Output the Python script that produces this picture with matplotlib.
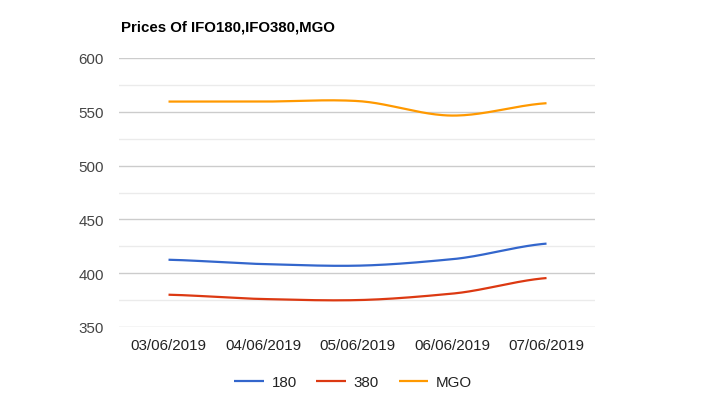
import numpy as np
import matplotlib
matplotlib.use("Agg")
import matplotlib.pyplot as plt
from matplotlib.ticker import MultipleLocator

plt.rcParams['font.family'] = ['Liberation Sans', 'DejaVu Sans']

dates = ["03/06/2019", "04/06/2019", "05/06/2019", "06/06/2019", "07/06/2019"]
ifo180 = [412.5, 408.5, 407, 413, 427.5]
ifo380 = [380, 376, 375, 381, 395.5]
mgo = [559.5, 559.5, 560, 546.5, 558]
series_names = ["180", "380", "MGO"]
colors = ["#3366cc", "#dc3912", "#ff9900"]
title = "Prices Of IFO180,IFO380,MGO"


def smooth(xs, ys, n=40):
    # Catmull-Rom style curve passing through the data points
    xs = np.asarray(xs, float)
    ys = np.asarray(ys, float)
    px = np.concatenate([[2 * xs[0] - xs[1]], xs, [2 * xs[-1] - xs[-2]]])
    py = np.concatenate([[ys[0]], ys, [ys[-1]]])
    outx, outy = [], []
    for i in range(1, len(px) - 2):
        t = np.linspace(0, 1, n, endpoint=(i == len(px) - 3))
        p0, p1, p2, p3 = py[i - 1], py[i], py[i + 1], py[i + 2]
        x1, x2 = px[i], px[i + 1]
        m1 = (p2 - p0) / 2 * 0.8
        m2 = (p3 - p1) / 2 * 0.8
        if i == 1:
            m1 = (p2 - p1) * 0.5
        if i == len(px) - 3:
            m2 = (p2 - p1) * 0.5
        h00 = 2 * t**3 - 3 * t**2 + 1
        h10 = t**3 - 2 * t**2 + t
        h01 = -2 * t**3 + 3 * t**2
        h11 = t**3 - t**2
        outx.append(x1 + (x2 - x1) * t)
        outy.append(h00 * p1 + h10 * m1 + h01 * p2 + h11 * m2)
    return np.concatenate(outx), np.concatenate(outy)


fig = plt.figure(figsize=(7.02, 4.10), dpi=100)
ax = fig.add_axes([119 / 702, 82 / 410, 476 / 702, 269 / 410])

x = np.arange(len(dates))
for vals, name, c in zip([ifo180, ifo380, mgo], series_names, colors):
    sx, sy = smooth(x, vals)
    ax.plot(sx, sy, color=c, lw=1.6, label=name, solid_capstyle='butt', zorder=3)

ax.set_ylim(350, 600)
ax.set_xlim(-0.524, 4.513)
ax.yaxis.set_major_locator(MultipleLocator(50))
ax.yaxis.set_minor_locator(MultipleLocator(25))
ax.grid(which='major', axis='y', color='#cccccc', lw=1)
ax.grid(which='minor', axis='y', color='#ebebeb', lw=1)
ax.set_axisbelow(True)
for s in ax.spines.values():
    s.set_visible(False)
ax.set_xticks(x)
ax.set_xticklabels(dates)
ax.tick_params(axis='both', which='both', length=0)
ax.tick_params(axis='y', pad=11, labelsize=10.9, labelcolor='#444444')
ax.tick_params(axis='x', pad=8, labelsize=10.9, labelcolor='#222222')

fig.text(121 / 702, 1 - 27 / 410, title, fontsize=10.8, fontweight='bold',
         va='center', ha='left', color='#000000')

leg = fig.legend(loc='center', bbox_to_anchor=(0.503, 1 - 383 / 410), ncol=3,
                 frameon=False, fontsize=10.9, handlelength=1.95,
                 columnspacing=1.3, handletextpad=0.5)
for t in leg.get_texts():
    t.set_color('#222222')

fig.savefig("out.png", dpi=100)
